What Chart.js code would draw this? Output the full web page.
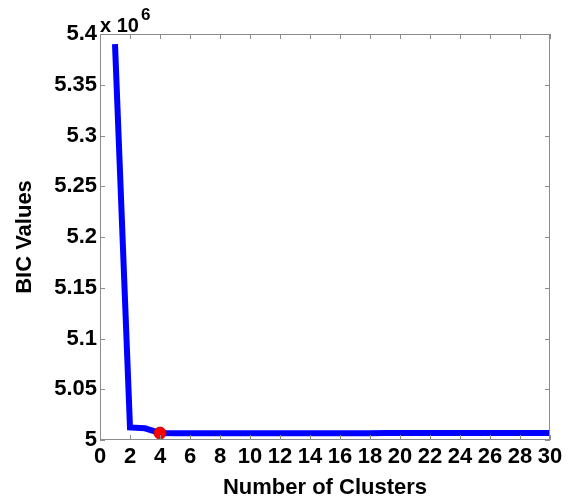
<!DOCTYPE html>
<html>
<head>
<meta charset="utf-8">
<script src="https://cdn.jsdelivr.net/npm/chart.js@4/dist/chart.umd.min.js"></script>
<style>
  html, body { margin: 0; padding: 0; background: #fff; }
  #wrap { width: 573px; height: 503px; }
</style>
</head>
<body>
<div id="wrap"><canvas id="bicChart"></canvas></div>
<script>
const clusters = [1, 2, 3, 4, 5, 6, 7, 8, 9, 10, 11, 12, 13, 14, 15,
  16, 17, 18, 19, 20, 21, 22, 23, 24, 25, 26, 27, 28, 29, 30];
const bicValues = [5390000, 5012300, 5011500, 5006800, 5006600, 5006600, 5006600, 5006600,
  5006600, 5006600, 5006600, 5006600, 5006600, 5006600, 5006600, 5006600, 5006700,
  5006700, 5007000, 5007000, 5007000, 5007000, 5007000, 5007000, 5007000, 5007000,
  5007000, 5007000, 5007000, 5007000];
const bestK = [4];
const bestBic = [5006800];
const yTickLabels = ['5', '5.05', '5.1', '5.15', '5.2', '5.25', '5.3', '5.35', '5.4'];
const exponentLabel = '6';

const FONT = "'Liberation Sans', Arial, sans-serif";
const frameColor = '#8c8c8c';

// box round the plot, ticks pointing inward on all four sides, and the x 10^6 note
const framePlugin = {
  id: 'frame',
  afterDatasetsDraw(chart) {
    const { ctx, chartArea: a, scales } = chart;
    ctx.save();
    ctx.strokeStyle = frameColor;
    ctx.lineWidth = 1;
    ctx.strokeRect(a.left + 0.5, a.top + 0.5, a.right - a.left - 1, a.bottom - a.top - 1);
    const len = 5;
    ctx.beginPath();
    scales.x.ticks.forEach(t => {
      const px = Math.round(scales.x.getPixelForValue(t.value)) + 0.5;
      ctx.moveTo(px, a.bottom); ctx.lineTo(px, a.bottom - len);
      ctx.moveTo(px, a.top); ctx.lineTo(px, a.top + len);
    });
    scales.y.ticks.forEach(t => {
      const py = Math.round(scales.y.getPixelForValue(t.value)) + 0.5;
      ctx.moveTo(a.left, py); ctx.lineTo(a.left + len, py);
      ctx.moveTo(a.right, py); ctx.lineTo(a.right - len, py);
    });
    ctx.stroke();

    ctx.fillStyle = '#000';
    ctx.textBaseline = 'alphabetic';
    ctx.textAlign = 'left';
    ctx.font = 'bold 20px ' + FONT;
    ctx.fillText('x 10', a.left, a.top - 2);
    const w = ctx.measureText('x 10').width;
    ctx.font = 'bold 17px ' + FONT;
    ctx.fillText(exponentLabel, a.left + w + 2, a.top - 14);
    ctx.restore();
  }
};

new Chart(document.getElementById('bicChart'), {
  type: 'line',
  data: {
    datasets: [
      {
        label: 'Best',
        data: bestK.map((k, i) => ({ x: k, y: bestBic[i] })),
        showLine: false,
        pointRadius: 6,
        pointBackgroundColor: '#ff0000',
        pointBorderColor: '#cc0000',
        pointBorderWidth: 1
      },
      {
        label: 'BIC',
        data: clusters.map((k, i) => ({ x: k, y: bicValues[i] })),
        borderColor: '#0000ff',
        borderWidth: 6,
        pointRadius: 0,
        tension: 0,
        fill: false
      }
    ]
  },
  options: {
    responsive: true,
    maintainAspectRatio: false,
    animation: false,
    layout: { padding: { left: 0, right: 23, top: 34, bottom: 0 } },
    plugins: {
      legend: { display: false },
      tooltip: { enabled: false }
    },
    scales: {
      x: {
        type: 'linear',
        min: 0,
        max: 30,
        grid: { display: false, drawTicks: false },
        border: { display: false },
        ticks: {
          stepSize: 2,
          padding: 4,
          color: '#000',
          maxRotation: 0,
          autoSkip: false,
          font: { family: FONT, size: 22, weight: 'bold', lineHeight: 1.2 }
        },
        title: {
          display: true,
          text: 'Number of Clusters',
          color: '#000',
          padding: { top: 0, bottom: 2 },
          font: { family: FONT, size: 22, weight: 'bold', lineHeight: 1.2 }
        },
        afterFit(scale) { scale.height = 63; }
      },
      y: {
        min: 5000000,
        max: 5400000,
        grid: { display: false, drawTicks: false },
        border: { display: false },
        ticks: {
          stepSize: 50000,
          padding: 3,
          color: '#000',
          autoSkip: false,
          font: { family: FONT, size: 22, weight: 'bold', lineHeight: 1.2 },
          callback: (v, i) => yTickLabels[i]
        },
        title: {
          display: true,
          text: 'BIC Values',
          color: '#000',
          padding: { top: 12, bottom: 0 },
          font: { family: FONT, size: 22, weight: 'bold', lineHeight: 1.2 }
        },
        afterFit(scale) { scale.width = 100; }
      }
    }
  },
  plugins: [framePlugin]
});
</script>
</body>
</html>
